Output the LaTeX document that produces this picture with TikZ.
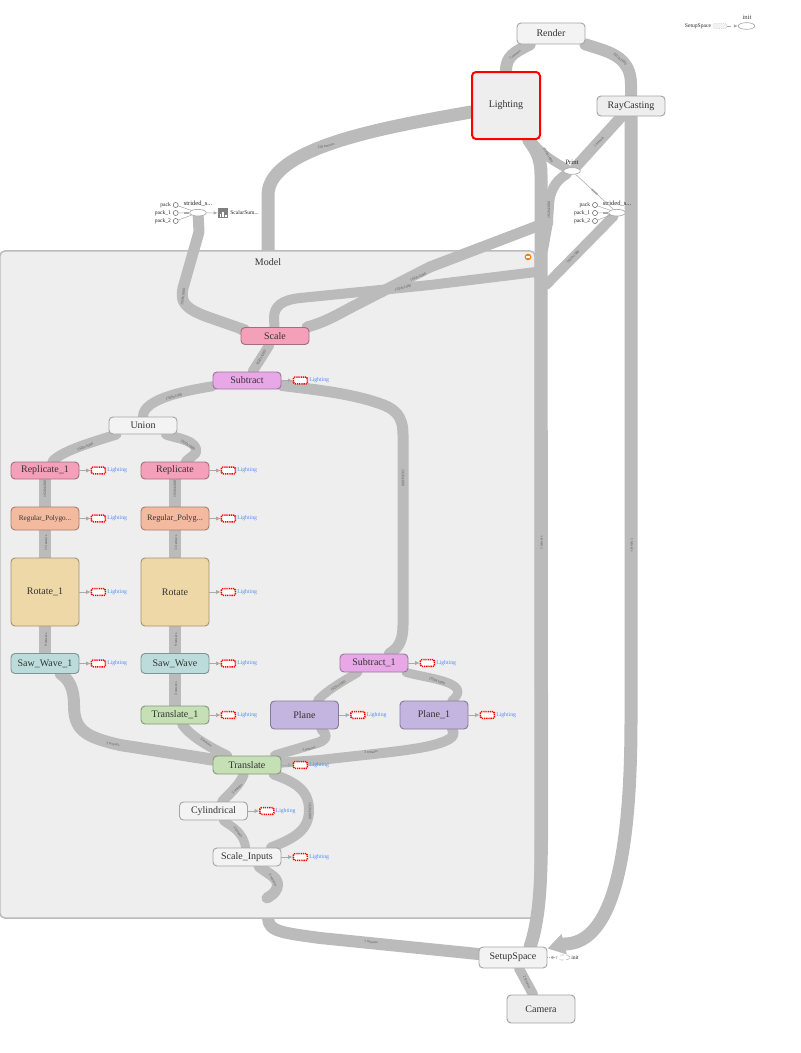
\documentclass[tikz,border=0pt]{standalone}
\usepackage{fontspec}
\setmainfont{Liberation Serif}
\usepackage{xcolor}
\usetikzlibrary{shapes.geometric, arrows.meta, positioning, calc, backgrounds}
\definecolor{GraphEdge}{RGB}{187, 187, 187}
\definecolor{GraphText}{RGB}{51, 51, 51}
\definecolor{GraphLine}{RGB}{170, 170, 170}
\definecolor{GroupFill}{RGB}{238, 238, 238}
\definecolor{GroupLine}{RGB}{187, 187, 187}
\definecolor{PlainFill}{RGB}{243, 243, 243}
\definecolor{PinkFill}{RGB}{245, 160, 186}
\definecolor{PeachFill}{RGB}{244, 186, 160}
\definecolor{SandFill}{RGB}{239, 216, 168}
\definecolor{TealFill}{RGB}{188, 220, 220}
\definecolor{GreenFill}{RGB}{196, 224, 180}
\definecolor{LilacFill}{RGB}{196, 180, 224}
\definecolor{MauveFill}{RGB}{232, 168, 232}
\definecolor{LinkBlue}{RGB}{80, 140, 250}
\definecolor{MinusOrange}{RGB}{240, 128, 16}
\tikzset{
  opbox/.style n args={2}{draw=#1!68!black, fill=#1, rounded corners=3pt, line width=0.7pt,
    minimum width=51pt, minimum height=#2*0.75pt, inner sep=0pt, text=GraphText,
    font=\fontsize{7.5}{9}\selectfont},
  flow/.style={draw=GraphEdge, line width=#1*0.75pt, line cap=round, line join=round},
  flow/.default=10,
  edgetext/.style={font=\fontsize{2.8}{3}\selectfont, text=black!65, inner sep=0pt},
  smalltext/.style={font=\fontsize{4.2}{5}\selectfont, text=black!85, inner sep=0pt},
  opoval/.style={ellipse, draw=GraphLine, fill=white, line width=0.5pt, inner sep=0pt,
    minimum width=12.5pt, minimum height=5pt},
  thinline/.style={draw=GraphLine, line width=0.4pt},
  thinarrow/.style={thinline, -{Latex[length=3pt, width=2.5pt]}},
  refline/.style={draw=GraphLine, line width=0.6pt, -{Latex[length=3.5pt, width=3.2pt]}},
  refbox/.style={draw=red, fill=white, dash pattern=on 1pt off 0.6pt, line width=1.1pt,
    rounded corners=1pt, minimum width=10.5pt, minimum height=5pt, inner sep=0pt},
  reftext/.style={font=\fontsize{4.3}{5}\selectfont, text=LinkBlue, inner sep=0pt},
  packdot/.style={circle, draw=black!60, fill=white, line width=0.4pt, minimum size=3.8pt, inner sep=0pt}
}
\begin{document}
\begin{tikzpicture}[x=0.75pt,y=-0.75pt]
  \path[use as bounding box] (0,0) rectangle (800,1053);

  \node[opbox={PlainFill}{21}] (Render) at (551,33.5) {Render};
  \node[opbox={GroupFill}{67}, draw=red, line width=1.5pt] (Lighting) at (506,105.5) {Lighting};
  \node[opbox={GroupFill}{20}] (RayCasting) at (631,106) {RayCasting};
  \node[opbox={PinkFill}{17}] (Scale) at (275,336) {Scale};
  \node[opbox={MauveFill}{17}] (Subtract) at (247,380.5) {Subtract};
  \node[opbox={PlainFill}{17}] (Union) at (143,425.5) {Union};
  \node[opbox={PinkFill}{17}] (Replicate_1) at (45,470.5) {Replicate\_1};
  \node[opbox={PinkFill}{17}] (Replicate) at (175,470.5) {Replicate};
  \node[opbox={PeachFill}{23}, font=\fontsize{5.4}{6}\selectfont] (Regular_1) at (45,518.5) {Regular\_Polygo...};
  \node[opbox={PeachFill}{23}, font=\fontsize{6.2}{7}\selectfont] (Regular) at (175,518.5) {Regular\_Polyg...};
  \node[opbox={SandFill}{68}] (Rotate_1) at (45,592) {Rotate\_1};
  \node[opbox={SandFill}{68}] (Rotate) at (175,592) {Rotate};
  \node[opbox={TealFill}{20}] (Saw_Wave_1) at (45,663.5) {Saw\_Wave\_1};
  \node[opbox={TealFill}{20}] (Saw_Wave) at (175,663.5) {Saw\_Wave};
  \node[opbox={GreenFill}{18}] (Translate_1) at (175,715) {Translate\_1};
  \node[opbox={GreenFill}{18}] (Translate) at (247,765) {Translate};
  \node[opbox={PlainFill}{18}] (Cylindrical) at (213.5,811) {Cylindrical};
  \node[opbox={PlainFill}{18}] (Scale_Inputs) at (247,857) {Scale\_Inputs};
  \node[opbox={LilacFill}{28}] (Plane) at (304.5,715) {Plane};
  \node[opbox={LilacFill}{28}] (Plane_1) at (434,715) {Plane\_1};
  \node[opbox={MauveFill}{18}] (Subtract_1) at (374,663) {Subtract\_1};
  \node[opbox={PlainFill}{21}] (SetupSpace) at (513,957.5) {SetupSpace};
  \node[opbox={GroupFill}{28}] (Camera) at (541,1009) {Camera};

  \node[opoval] (Print) at (572,171) {};
  \node[font=\fontsize{5}{6}\selectfont, text=black!85, inner sep=0pt] (PrintText) at (572,162) {Print};
  \foreach \side/\px/\ex in {Left/175.7/198,Right/595/617}{
    \node[opoval] (Strided\side) at (\ex,212.7) {};
    \node[font=\fontsize{4.9}{6}\selectfont, text=black!85, inner sep=0pt] (Strided\side Text) at (\ex,204) {strided\_s...};
    \foreach \n/\y/\t in {0/205/pack,1/213/pack\_1,2/221/pack\_2}{
      \node[packdot] (Pack\side\n) at (\px,\y) {};
      \node[smalltext, anchor=east] (Pack\side\n Text) at (\px-4.5,\y) {\t};
      \draw[thinline] (Pack\side\n) -- (Strided\side);
    }
    \draw[draw=GraphLine, line width=1.4pt] ($(Strided\side.west)+(-5,0)$) -- (Strided\side.west);
  }

  \node[fill=black!50, minimum size=7.5pt, inner sep=0pt] (ScalarIcon) at (223,213) {};
  \foreach \x/\h in {-2.6/3,0/5,2.6/2}{
    \fill[white] ($(ScalarIcon.south)+(\x-0.9,-1.5)$) rectangle ++(1.8,-\h);
  }
  \node[smalltext, anchor=west] (ScalarText) at (230,213) {ScalarSum...};
  \draw[thinarrow] (StridedLeft) -- (ScalarIcon);
  \draw[thinline] (Print) -- node[sloped, fill=GraphLine, minimum width=6pt, minimum height=1.3pt, inner sep=0pt] (PrintTick) {} (StridedRight);

  \node[smalltext] (TopSetupText) at (698,26) {SetupSpace};
  \node[draw=black!25, fill=black!5, densely dotted, rounded corners=1pt, line width=0.4pt, minimum width=10.5pt, minimum height=3.8pt, inner sep=0pt] (TopSetupBox) at (720,26) {};
  \node[opoval] (TopInit) at (746.5,26) {};
  \node[font=\fontsize{5}{6}\selectfont, text=black!75, inner sep=0pt] (TopInitText) at (747,17.5) {init};
  \draw[thinline, dashed, -{Latex[length=3pt, width=2.5pt]}] (TopSetupBox) -- (TopInit);
  \node[opoval, draw=black!25, densely dashed, minimum width=10.5pt, minimum height=3.8pt] (SetupInit) at (563,957.5) {};
  \node[smalltext] (SetupInitText) at (575,958) {init};
  \draw[thinline, densely dotted, -{Latex[length=3pt, width=2.5pt]}] (SetupSpace) -- (SetupInit);

  \node[font=\fontsize{7.5}{9}\selectfont, text=GraphText, inner sep=0pt] (ModelText) at (268,262) {Model};
  \node[circle, fill=MinusOrange, minimum size=5pt, inner sep=0pt] (ModelMinus) at (528,257) {};
  \node[fill=white, minimum width=3.4pt, minimum height=1pt, inner sep=0pt] (ModelMinusBar) at (528,257) {};

  \foreach \n in {Subtract,Replicate_1,Replicate,Regular_1,Regular,Rotate_1,Rotate,Saw_Wave_1,Saw_Wave,Translate_1,Translate,Cylindrical,Scale_Inputs,Plane,Plane_1,Subtract_1}{
    \node[refbox] (\n Ref) at ($(\n.east)+(19,0)$) {};
    \node[reftext, right=0.6pt of \n Ref] (\n RefText) {Lighting};
    \draw[refline] (\n) -- (\n Ref);
  }

  \coordinate (ModelTop) at (268,251);
  \coordinate (ModelBottom) at (268,918);
  \coordinate (ScaleEnd) at (267,898);
  \coordinate (PrintBend) at (548,222);
  \coordinate (PrintEnd) at (543,250);

  \begin{pgfonlayer}{background}
    \draw[flow=13] (Lighting) .. controls (400,125) and (268,145) .. (268,195) -- (ModelTop);
    \draw[flow=12] (ModelBottom) .. controls (268,932) and (285,933) .. (320,938) -- (SetupSpace);
    \node[draw=GroupLine, fill=GroupFill, line width=1.1pt, rounded corners=4pt, minimum width=401.5pt, minimum height=500.5pt, inner sep=0pt] (Model) at (267.5,584.5) {};

    \draw[flow=12] (Render) .. controls (515,52) and (506,56) .. (Lighting);
    \draw[flow=12] (Render) -- (600,49) .. controls (622,56) and (631,66) .. (631,85) -- (RayCasting);
    \draw[flow=9] (Lighting) .. controls (538,150) and (550,160) .. (Print);
    \draw[flow=11] (RayCasting) -- (Print);
    \draw[flow=10] (Print) .. controls (560,178) and (550,186) .. (549,205) -- (PrintBend) -- (PrintEnd);
    \draw[flow=11] (Scale) .. controls (325,322) and (335,316) .. (350,308) -- (430,267) -- (PrintBend);
    \draw[flow=10] (StridedRight) -- (546,285) -- (536,272) -- (430,285) -- (300,298) .. controls (282,300) and (274,306) .. (274,318) -- (Scale);
    \draw[flow=13] (Lighting) .. controls (534,148) and (541,155) .. (541,175) -- (541.5,700) .. controls (541.5,800) and (543,870) .. (538,910) .. controls (536,925) and (534,935) .. (530,947) -- (SetupSpace);
    \draw[flow=13, -{Triangle[length=13pt, width=15pt]}] (RayCasting) -- (631,720) .. controls (631,860) and (612,943) .. (565,944) -- (SetupSpace);
    \draw[flow=11] (StridedLeft) -- (199,232) -- (183,288) .. controls (180,302) and (185,308) .. (205,316) -- (245,330) -- (Scale);

    \draw[flow] (Scale) -- (Subtract);
    \draw[flow] (Subtract) .. controls (190,390) and (143,398) .. (Union);
    \draw[flow=11] (Subtract) .. controls (300,388) and (345,392) .. (375,402) .. controls (395,408) and (403,415) .. (403,435) -- (403,625) .. controls (403,645) and (395,650) .. (Subtract_1);
    \draw[flow] (Union) .. controls (100,440) and (62,450) .. (Replicate_1);
    \draw[flow] (Union) .. controls (175,438) and (199,440) .. (196,453) -- (Replicate);
    \foreach \a/\b in {Replicate_1/Regular_1,Regular_1/Rotate_1,Rotate_1/Saw_Wave_1,Replicate/Regular,Regular/Rotate,Rotate/Saw_Wave,Saw_Wave/Translate_1}{
      \draw[flow=12] (\a) -- (\b);
    }
    \draw[flow=12] (Saw_Wave_1) .. controls (70,680) and (74,690) .. (74,705) .. controls (74,730) and (85,737) .. (120,745) -- (Translate);
    \draw[flow] (Translate_1) .. controls (190,735) and (205,745) .. (Translate);
    \draw[flow] (Translate) .. controls (240,785) and (228,795) .. (Cylindrical);
    \draw[flow] (Translate) .. controls (295,782) and (309,790) .. (309,810) .. controls (309,830) and (295,838) .. (Scale_Inputs);
    \draw[flow=9] (Cylindrical) .. controls (228,825) and (243,830) .. (Scale_Inputs);
    \draw[flow=11] (Scale_Inputs) .. controls (270,875) and (280,878) .. (277,888) .. controls (275,893) and (272,895) .. (ScaleEnd);
    \draw[flow] (Plane) .. controls (322,730) and (333,738) .. (317,743) -- (278,754.5) -- (Translate);
    \draw[flow] (Plane_1) .. controls (455,732) and (456,738) .. (440,743) .. controls (420,750) and (380,753) .. (320,760) -- (Translate);
    \draw[flow=9] (Subtract_1) .. controls (345,680) and (327,690) .. (Plane);
    \draw[flow=9] (Subtract_1) .. controls (425,678) and (475,682) .. (Plane_1);
    \draw[flow] (SetupSpace) -- (Camera);
  \end{pgfonlayer}

  \foreach \x/\y/\a/\t [count=\i] in {
    515/55/35/1 tensors, 620/59/-40/1920x1080, 548/155/-60/1920x1080, 599/142/47/1 tensors,
    549/210/90/1920x1080, 326/146/12/128 tensors, 573/257/45/1920x1080, 183/297/82/1920x1080,
    418/277/20/1024x1080, 403/288/15/1024x1080, 261/358/60/1920x1080, 174/397/15/1920x1080,
    403/478/-90/1920x1080, 85/447/20/1920x1080, 188/445/-35/1920x1080,
    45/489/90/1920x1080, 175/489/90/1920x1080, 46/543/90/11 tensors, 176/543/90/11 tensors,
    46/640/90/9 tensors, 176/640/90/9 tensors, 176/689/90/3 tensors,
    113/744/-10/3 tensors, 206/742/-35/3 tensors, 309/749/15/3 tensors, 371/752/5/3 tensors,
    338/686/30/1920x1080, 437/681/-20/1920x1080, 237/789/45/3 tensors, 310/811/-90/1920x1080,
    238/832/-55/3 tensors, 273/880/-60/3 tensors, 371/942/-5/1 tensors, 527/982/-65/2 tensors,
    541.5/543/90/1 tensors, 632/545/-90/1 tensors}{
    \node[edgetext, rotate=\a] (EdgeText\i) at (\x,\y) {\t};
  }
\end{tikzpicture}
\end{document}
